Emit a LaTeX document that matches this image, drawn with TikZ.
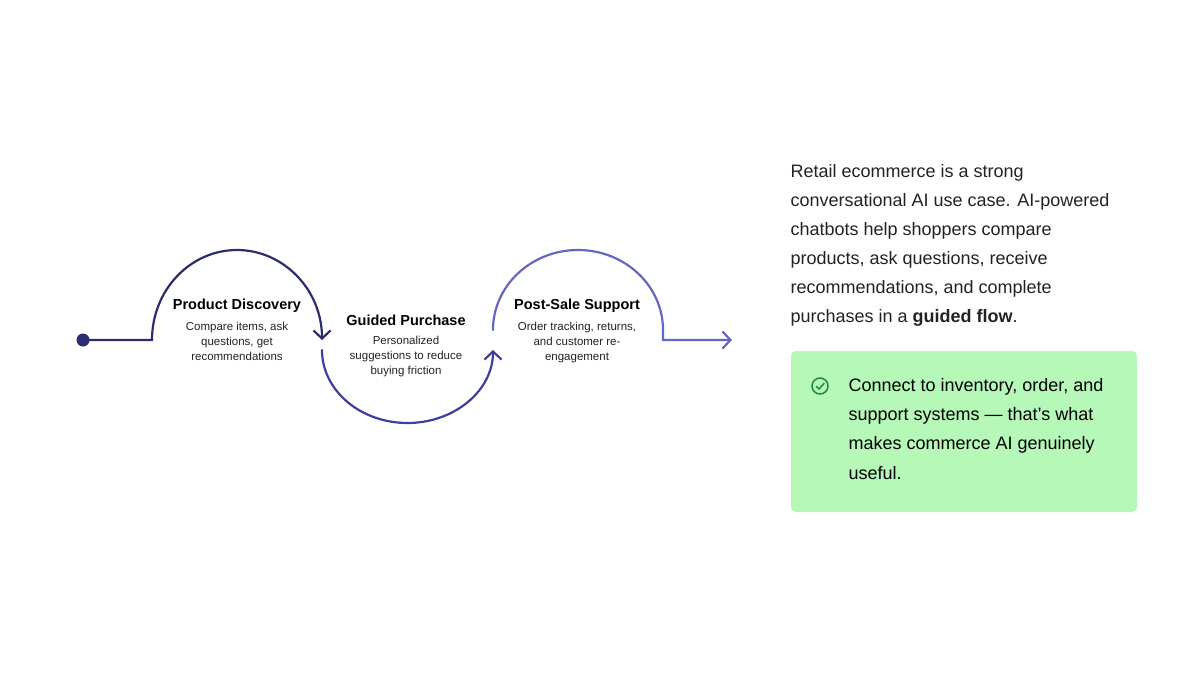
\documentclass[tikz,border=0pt]{standalone}
\usepackage{fontspec}
\setmainfont{Liberation Sans}
\usetikzlibrary{arrows.meta}
\definecolor{c1}{HTML}{2B2D6E}
\definecolor{c2}{HTML}{3D3FA0}
\definecolor{c3}{HTML}{6467C2}
\definecolor{boxg}{HTML}{B5F8B8}
\definecolor{chk}{HTML}{1E8A3E}
\definecolor{txt}{HTML}{222222}
\begin{document}
\begin{tikzpicture}[x=1pt,y=-1pt,
  ttl/.style={font=\fontsize{14.5}{17}\selectfont\bfseries, text=black},
  dsc/.style={font=\fontsize{11.5}{14.8}\selectfont, text=txt, align=center, anchor=north},
  par/.style={font=\fontsize{18}{29}\selectfont, text=txt, anchor=west},
  flow/.style={line width=2.2pt, line cap=round},
  tip/.style={-{Straight Barb[length=8pt,width=17pt,line width=2.2pt]}}]
\useasboundingbox (0,0) rectangle (1200,675);
% flow
\coordinate (s) at (83,340);
\coordinate (a0) at (152,340);
\coordinate (b0) at (322,350);
\coordinate (c0) at (493,330);
\coordinate (c1e) at (663,340);
\coordinate (e) at (732,340);
\fill[c1] (s) circle (6.5);
\draw[flow,c1,tip] (s) -- (a0) arc[start angle=180,end angle=360,x radius=85,y radius=90];
\draw[flow,c2,tip] (b0) arc[start angle=180,end angle=0,x radius=85.5,y radius=73];
\draw[flow,c3,tip] (c0) arc[start angle=180,end angle=360,x radius=85,y radius=80] -- (c1e) -- (e);
% labels
\node[ttl] (t1) at (237,306) {Product Discovery};
\node[dsc] (d1) at (237,319) {Compare items, ask\\questions, get\\recommendations};
\node[ttl] (t2) at (406,320) {Guided Purchase};
\node[dsc] (d2) at (406,333) {Personalized\\suggestions to reduce\\buying friction};
\node[ttl] (t3) at (577,306) {Post-Sale Support};
\node[dsc] (d3) at (577,319) {Order tracking, returns,\\and customer re-\\engagement};
% paragraph
\node[par] (p1) at (787,173) {Retail ecommerce is a strong};
\node[par] (p2) at (787,202) {conversational AI use case. AI-powered};
\node[par] (p3) at (787,231) {chatbots help shoppers compare};
\node[par] (p4) at (787,260) {products, ask questions, receive};
\node[par] (p5) at (787,289) {recommendations, and complete};
\node[par] (p6) at (787,318) {purchases in a \textbf{guided flow}.};
% box
\fill[boxg, rounded corners=5pt] (791,351) rectangle (1137,512);
\draw[chk, line width=1.5pt] (820,386) circle (8);
\draw[chk, line width=1.5pt, line cap=round, line join=round] (816.5,386.5) -- (819,389) -- (824,383.5);
\node[par,text=black] (q1) at (845,387) {Connect to inventory, order, and};
\node[par,text=black] (q2) at (845,416) {support systems — that's what};
\node[par,text=black] (q3) at (845,445) {makes commerce AI genuinely};
\node[par,text=black] (q4) at (845,473) {useful.};
\end{tikzpicture}
\end{document}
